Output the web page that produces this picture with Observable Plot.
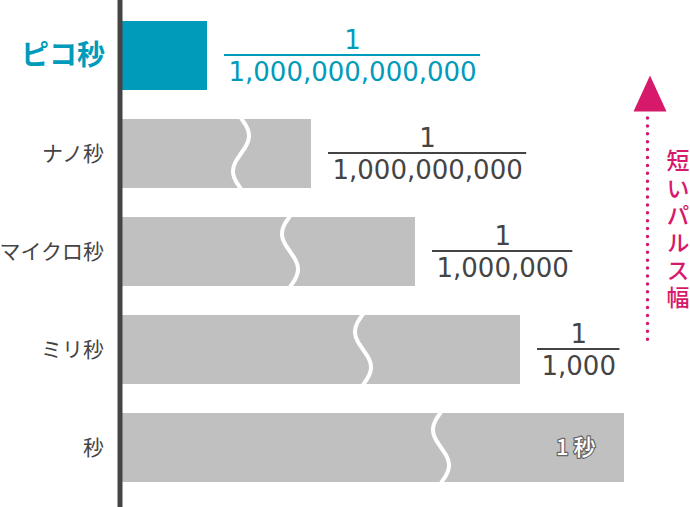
<!DOCTYPE html>
<html><head><meta charset="utf-8">
<script src="https://cdn.jsdelivr.net/npm/d3@7"></script>
<script src="https://cdn.jsdelivr.net/npm/@observablehq/plot@0.6"></script>
<style>html,body{margin:0;padding:0;background:#fff}#chart svg{display:block}</style>
</head><body><div id="chart"></div>
<script>
// ---- data ----
const categories = ["ピコ秒", "ナノ秒", "マイクロ秒", "ミリ秒", "秒"];
const barLengths = [87.5, 191.5, 295.5, 400.5, 504.5];           // schematic bar lengths
const numerators = ["1", "1", "1", "1", null];
const denominators = ["1,000,000,000,000", "1,000,000,000", "1,000,000", "1,000", null];
const innerLabels = [null, null, null, null, "1 秒"];
const breakAt = [null, 121.5, 170.5, 243.5, 321.5];               // where the bar is "cut"
const breakDir = [0, 1, -1, -1, -1];
const arrowLabel = "短いパルス幅";
const highlight = "ピコ秒";

// ---- styles / layout ----
const W = 690, H = 507, ML = 119.5, MT = 21, MB = 25.4;
const BLUE = "#009bbb", GRAY = "#c0c0c0", DARK = "#444444", PINK = "#d6196b";
const JP = '"Noto Sans CJK JP", "Noto Sans", sans-serif';
const NUM = '"DejaVu Sans", sans-serif';
const NUM_SIZE = 26;
const ARROW_X = 647, ARROW_TEXT_X = 678;

const rows = categories.map((cat, i) => ({
  cat, len: barLengths[i], num: numerators[i], den: denominators[i],
  inner: innerLabels[i], brk: breakAt[i], dir: breakDir[i]
}));

const ctx = document.createElement("canvas").getContext("2d");
ctx.font = `${NUM_SIZE}px "DejaVu Sans"`;
const fracRows = rows.filter(r => r.den).map(r => {
  const w = ctx.measureText(r.den).width;
  const fx1 = r.len + 17, fx2 = r.len + 17 + w + 8;
  return {...r, fx1, fx2, fxm: (fx1 + fx2) / 2};
});
const colorOf = d => d.cat === highlight ? BLUE : DARK;

function breaks(index, scales) {
  const {x, y} = scales;
  const bw = typeof y.bandwidth === "function" ? y.bandwidth() : y.bandwidth;
  const g = d3.create("svg:g");
  for (const r of rows) {
    if (r.brk == null) continue;
    const cx = x(r.brk), top = y(r.cat);
    const pts = d3.range(0, 1.0001, 0.025).map(t => [cx + r.dir * 8 * Math.sin(2 * Math.PI * t), top - 1 + t * (bw + 2)]);
    g.append("path").attr("d", d3.line().curve(d3.curveBasis)(pts))
      .attr("fill", "none").attr("stroke", "white").attr("stroke-width", 4);
  }
  return g.node();
}

function arrowText(index, scales) {
  const g = d3.create("svg:g");
  g.append("text")
    .attr("x", scales.x(ARROW_TEXT_X - ML)).attr("y", 149)
    .attr("text-anchor", "start")
    .style("writing-mode", "vertical-rl").style("text-orientation", "upright")
    .attr("font-family", JP).attr("font-size", 23).attr("font-weight", 500)
    .attr("letter-spacing", 4.4).attr("fill", PINK)
    .text(arrowLabel);
  return g.node();
}

const triangle = {
  draw(c) { c.moveTo(0, -18); c.lineTo(16.5, 18); c.lineTo(-16.5, 18); c.closePath(); }
};

const chart = Plot.plot({
  width: W, height: H,
  marginLeft: ML, marginRight: 0, marginTop: MT, marginBottom: MB,
  x: {domain: [0, W - ML], axis: null},
  y: {domain: categories, paddingInner: 0.3, paddingOuter: 0, axis: null},
  color: {type: "identity"},
  style: {background: "white", overflow: "visible"},
  marks: [
    Plot.barX(rows, {x: "len", y: "cat", fill: d => d.cat === highlight ? BLUE : GRAY}),
    breaks,
    Plot.ruleX([0], {stroke: DARK, strokeWidth: 5, insetTop: -MT, insetBottom: -MB}),
    Plot.text(rows.filter(d => d.cat !== highlight), {
      x: 0, y: "cat", text: "cat", dx: -16, textAnchor: "end",
      fontSize: 21, fill: DARK, fontFamily: JP
    }),
    Plot.text(rows.filter(d => d.cat === highlight), {
      x: 0, y: "cat", text: "cat", dx: -15, textAnchor: "end",
      fontSize: 28, fontWeight: "bold", fill: BLUE, fontFamily: JP
    }),
    Plot.ruleY(fracRows, {x1: "fx1", x2: "fx2", y: "cat", dy: -1, stroke: colorOf, strokeWidth: 2}),
    Plot.text(fracRows, {x: "fxm", y: "cat", text: "num", dy: -15.8, fill: colorOf, fontSize: NUM_SIZE, fontFamily: NUM}),
    Plot.text(fracRows, {x: "fxm", y: "cat", text: "den", dy: 16.7, fill: colorOf, fontSize: NUM_SIZE, fontFamily: NUM}),
    Plot.text(rows.filter(d => d.inner), {
      x: "len", y: "cat", text: "inner", dx: -29, textAnchor: "end",
      fill: "white", stroke: "#666", strokeWidth: 2.5, paintOrder: "stroke",
      fontSize: 22, fontWeight: 500, fontFamily: JP
    }),
    Plot.ruleX([ARROW_X - ML], {
      x: d => d, stroke: PINK, strokeWidth: 3.5, strokeDasharray: "0 7.9", strokeLinecap: "round",
      insetTop: 118 - MT, insetBottom: (H - MB) - 346
    }),
    Plot.dot([ARROW_X + 2.5 - ML], {x: d => d, frameAnchor: "top", dy: 93 - MT, symbol: triangle, r: 10, fill: PINK, stroke: "none"}),
    arrowText
  ]
});
document.getElementById("chart").appendChild(chart);
</script>
</body></html>
